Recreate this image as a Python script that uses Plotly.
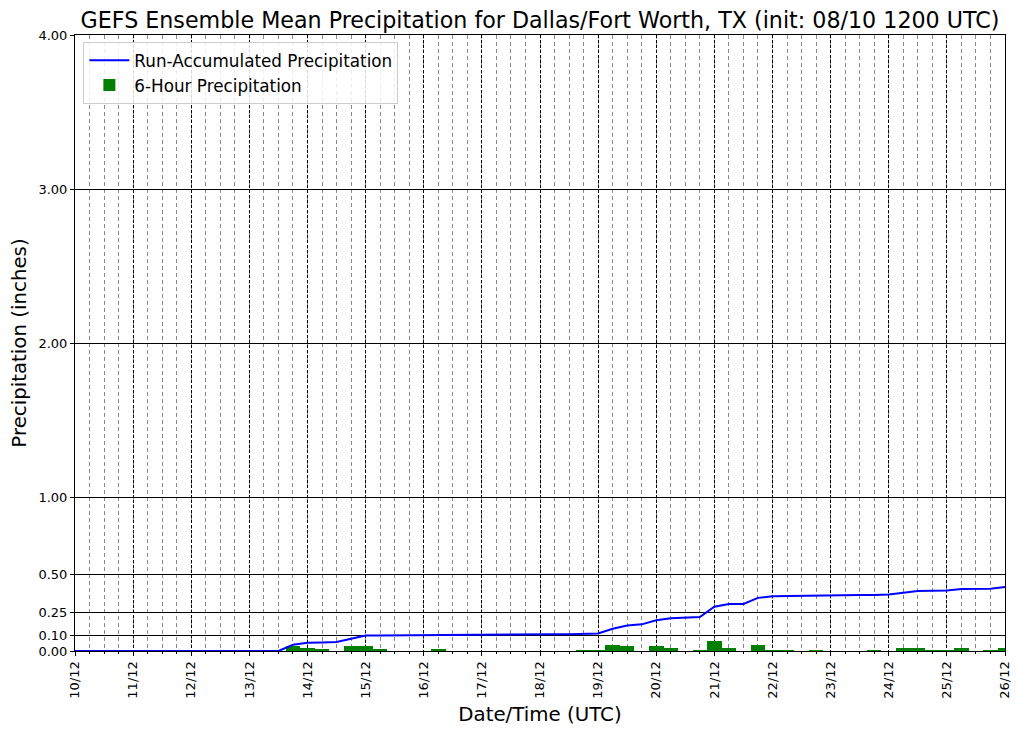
import plotly.graph_objects as go

# time index in hours since 10/12 (day 10, 12 UTC), 6-hourly steps
hours = [6 * i for i in range(65)]

accum = [0, 0, 0, 0, 0, 0, 0, 0, 0, 0, 0, 0, 0, 0, 0,
         0.040, 0.054, 0.056, 0.058, 0.079, 0.100, 0.101, 0.102, 0.103, 0.103,
         0.105, 0.106, 0.106, 0.107, 0.107, 0.108, 0.108, 0.108, 0.109, 0.109,
         0.110, 0.114, 0.144, 0.166, 0.173, 0.199, 0.212, 0.217, 0.221, 0.288,
         0.305, 0.306, 0.345, 0.356, 0.358, 0.359, 0.360, 0.362, 0.362, 0.364,
         0.364, 0.367, 0.378, 0.389, 0.391, 0.393, 0.402, 0.402, 0.404, 0.415]

six_hour = [0, 0, 0, 0, 0, 0, 0, 0, 0, 0, 0, 0, 0, 0, 0,
            0.035, 0.018, 0.010, 0, 0.030, 0.030, 0.010, 0, 0, 0,
            0.008, 0, 0, 0, 0, 0, 0, 0, 0, 0,
            0.005, 0.005, 0.037, 0.030, 0, 0.030, 0.022, 0, 0.005, 0.068,
            0.022, 0, 0.042, 0.006, 0.006, 0, 0.006, 0, 0, 0,
            0.006, 0, 0.018, 0.018, 0.005, 0.005, 0.018, 0, 0.005, 0.018]

day_ticks = [24 * d for d in range(17)]
day_labels = ["%d/12" % (10 + d) for d in range(17)]

y_ticks = [0, 0.1, 0.25, 0.5, 1, 2, 3, 4]
y_labels = ["%.2f" % v for v in y_ticks]

title = "GEFS Ensemble Mean Precipitation for Dallas/Fort Worth, TX (init: 08/10 1200 UTC)"

fig = go.Figure()
fig.add_trace(go.Scatter(x=hours, y=accum, mode="lines",
                         line=dict(color="#0000ff", width=2),
                         name="Run-Accumulated Precipitation"))
fig.add_trace(go.Bar(x=hours, y=six_hour, width=6, marker=dict(color="#008000", line=dict(width=0)),
                     name="6-Hour Precipitation"))

fig.update_layout(
    width=1022, height=734,
    margin=dict(l=67, r=25, t=27, b=91),
    paper_bgcolor="white", plot_bgcolor="white",
    font=dict(family="DejaVu Sans", size=13, color="black"),
    title=dict(text=title, font=dict(size=22.2, color="black"), x=0.5, xref="paper",
               xanchor="center", y=1 - 12 / 734, yref="container", yanchor="middle"),
    showlegend=True,
    legend=dict(x=0.009, y=0.989, xanchor="left", yanchor="top",
                bgcolor="rgba(255,255,255,0.85)", bordercolor="#cccccc", borderwidth=1,
                font=dict(size=16.8), traceorder="normal", tracegroupgap=4,
                itemwidth=40),
    bargap=0,
)

fig.update_xaxes(
    range=[0, 384], tickmode="array", tickvals=day_ticks, ticktext=day_labels,
    tickangle=-90, ticks="outside", ticklen=4, tickcolor="black",
    showgrid=True, gridcolor="black", gridwidth=1, griddash="3px,2px",
    minor=dict(tickmode="linear", tick0=0, dtick=6, showgrid=True, gridcolor="#888888",
               griddash="4px,3px", gridwidth=1, ticks="outside", ticklen=2, tickcolor="black"),
    showline=True, linecolor="black", linewidth=1, mirror=True, zeroline=False,
    title=dict(text="Date/Time (UTC)", font=dict(size=19.8), standoff=9),
    tickfont=dict(size=13), automargin=False,
)
fig.update_yaxes(
    range=[0, 4], tickmode="array", tickvals=y_ticks, ticktext=y_labels,
    ticks="outside", ticklen=4, tickcolor="black",
    showgrid=True, gridcolor="black", gridwidth=1,
    showline=True, linecolor="black", linewidth=1, mirror=True, zeroline=False,
    title=dict(text="Precipitation (inches)", font=dict(size=19.8), standoff=10),
    tickfont=dict(size=13), automargin=False,
)

fig.write_html("out.html")
